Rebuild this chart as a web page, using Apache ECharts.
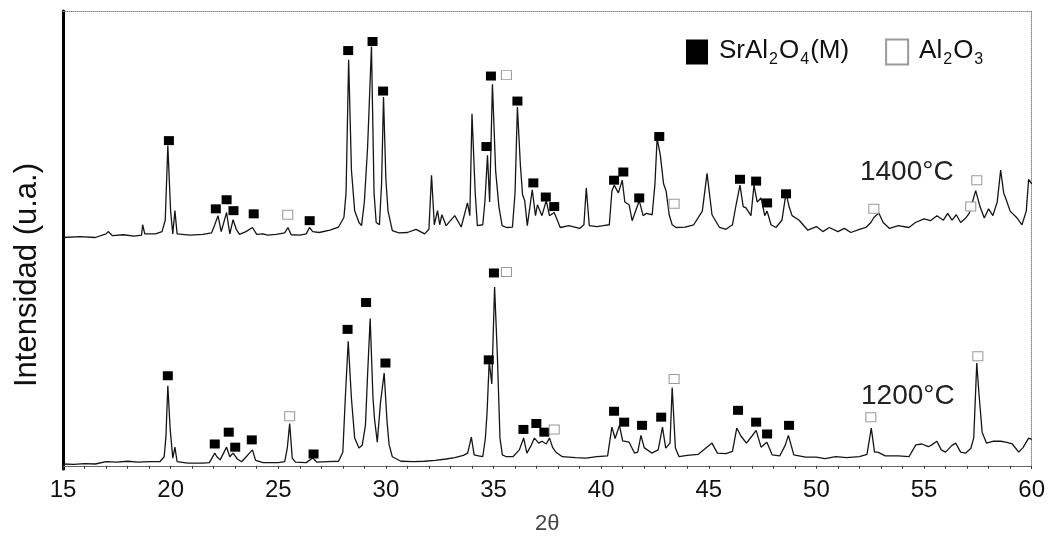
<!DOCTYPE html>
<html>
<head>
<meta charset="utf-8">
<script src="https://cdn.jsdelivr.net/npm/echarts@6/dist/echarts.min.js"></script>
<style>
html,body{margin:0;padding:0;background:#fff;}
#chart{width:1048px;height:540px;}
</style>
</head>
<body>
<div id="chart"></div>
<script>
// X-ray diffraction patterns: [2theta, intensity (a.u., offset included)]
var pattern1400 = [
[15.0,50.2],[15.8,50.4],[16.5,50.2],[17.0,51.0],[17.1,51.5],[17.3,50.6],[17.8,50.8],[18.3,50.5],[18.65,50.7],[18.7,53.0],[18.8,51.0],[19.3,51.0],[19.6,51.5],[19.75,54.0],[19.87,70.4],[20.0,56.0],[20.1,51.0],[20.2,56.1],[20.3,51.0],[20.9,50.7],[21.5,50.9],[21.9,51.2],[22.05,53.0],[22.2,55.0],[22.35,51.5],[22.6,55.7],[22.75,51.0],[22.9,54.1],[23.05,52.0],[23.2,50.9],[23.5,51.5],[23.8,52.4],[24.0,50.9],[24.3,51.0],[24.5,50.7],[24.9,50.9],[25.3,51.2],[25.45,52.4],[25.6,50.8],[26.0,50.7],[26.3,51.0],[26.45,52.4],[26.6,51.5],[26.9,51.3],[27.4,51.8],[27.8,52.5],[28.05,54.6],[28.15,60.0],[28.27,89.3],[28.4,65.0],[28.55,56.1],[28.75,53.5],[28.87,52.8],[29.0,58.0],[29.15,70.0],[29.33,92.2],[29.45,60.0],[29.55,53.5],[29.7,53.0],[29.8,62.0],[29.89,81.1],[30.0,63.0],[30.1,56.0],[30.3,51.7],[30.6,51.2],[31.0,51.3],[31.4,52.0],[31.8,51.0],[32.0,52.0],[32.12,63.9],[32.25,53.0],[32.4,56.1],[32.5,53.0],[32.6,55.2],[32.8,52.8],[33.2,55.0],[33.5,52.5],[33.79,57.8],[33.9,55.0],[34.0,77.4],[34.15,60.0],[34.25,52.8],[34.5,53.0],[34.6,58.0],[34.72,68.3],[34.82,58.0],[34.95,83.9],[35.1,64.8],[35.25,57.0],[35.4,52.8],[35.6,52.4],[35.88,52.5],[36.0,60.0],[36.11,78.9],[36.25,66.0],[36.35,59.6],[36.45,58.3],[36.57,52.8],[36.8,60.7],[36.95,55.0],[37.04,57.4],[37.25,55.0],[37.45,58.3],[37.6,55.0],[37.82,55.7],[38.1,52.4],[38.5,52.8],[39.0,52.2],[39.2,53.0],[39.31,61.1],[39.45,52.8],[39.8,52.6],[40.1,52.8],[40.38,53.0],[40.5,60.4],[40.61,61.7],[40.8,60.0],[40.98,62.8],[41.1,58.0],[41.3,57.4],[41.44,53.9],[41.77,58.3],[41.95,55.0],[42.1,55.5],[42.37,55.2],[42.5,62.0],[42.6,72.0],[42.75,68.3],[42.9,62.0],[43.02,60.4],[43.16,55.2],[43.3,53.0],[43.48,52.4],[43.9,52.5],[44.3,53.0],[44.7,56.0],[44.92,64.3],[45.15,55.2],[45.5,52.4],[45.8,52.0],[46.1,53.0],[46.27,57.4],[46.45,61.7],[46.6,57.0],[46.73,56.7],[46.96,55.0],[47.1,61.7],[47.25,58.0],[47.43,58.9],[47.6,55.0],[47.71,56.0],[47.89,53.0],[48.12,52.4],[48.4,54.0],[48.59,60.0],[48.73,57.0],[48.87,55.0],[49.2,54.0],[49.6,51.8],[50.0,52.6],[50.3,51.5],[50.6,52.4],[51.0,51.5],[51.3,52.2],[51.6,51.3],[52.0,52.0],[52.3,52.4],[52.53,53.5],[52.67,54.6],[52.9,55.6],[53.1,53.5],[53.4,52.2],[53.8,52.8],[54.3,52.4],[54.6,53.5],[55.0,54.3],[55.3,53.9],[55.6,55.0],[55.9,54.0],[56.1,55.5],[56.3,54.0],[56.5,55.2],[56.7,53.5],[56.94,54.5],[57.1,55.5],[57.25,58.0],[57.4,60.5],[57.6,57.0],[57.8,54.5],[58.0,56.5],[58.2,55.0],[58.4,58.0],[58.56,65.0],[58.7,60.0],[58.79,58.9],[59.0,56.0],[59.3,54.6],[59.55,53.0],[59.75,56.0],[59.86,63.0],[60.0,62.0]
];
var pattern1200 = [
[15.0,0.4],[15.5,0.3],[16.0,0.5],[16.5,0.4],[17.0,0.9],[17.5,0.8],[18.0,1.0],[18.5,0.8],[19.0,0.9],[19.5,0.9],[19.7,2.0],[19.78,6.3],[19.87,17.6],[19.98,8.0],[20.1,1.7],[20.2,4.1],[20.3,0.9],[20.8,0.6],[21.5,0.6],[21.8,0.7],[22.05,2.8],[22.15,2.0],[22.3,1.3],[22.6,4.1],[22.75,2.0],[22.9,2.8],[23.1,1.5],[23.3,0.9],[23.8,3.5],[23.95,1.2],[24.3,0.7],[25.0,0.7],[25.3,0.9],[25.42,3.9],[25.53,9.3],[25.65,1.7],[25.8,0.8],[26.3,0.7],[26.6,1.7],[26.8,0.8],[27.3,0.9],[27.8,1.0],[28.0,3.0],[28.12,15.4],[28.25,27.4],[28.4,14.8],[28.55,6.1],[28.75,3.9],[28.9,4.5],[29.05,8.9],[29.15,20.0],[29.27,32.4],[29.4,15.0],[29.47,10.4],[29.6,5.2],[29.75,13.9],[29.92,20.4],[30.05,10.0],[30.15,4.6],[30.3,2.0],[30.7,1.0],[31.3,0.9],[31.8,1.0],[32.3,1.2],[32.8,1.5],[33.2,1.8],[33.6,2.3],[33.8,2.8],[33.97,6.3],[34.1,2.4],[34.3,2.2],[34.5,2.0],[34.62,6.0],[34.7,11.7],[34.8,23.0],[34.92,18.0],[35.05,39.3],[35.18,24.1],[35.3,6.1],[35.41,2.4],[35.6,2.0],[35.9,2.0],[36.2,3.5],[36.4,6.1],[36.55,2.8],[36.75,4.5],[36.9,6.1],[37.1,5.0],[37.25,5.4],[37.45,4.8],[37.6,6.1],[37.75,4.0],[37.9,3.0],[38.2,2.0],[38.8,1.8],[39.3,1.7],[39.8,2.0],[40.3,2.2],[40.5,8.5],[40.65,6.0],[40.85,8.9],[41.0,5.5],[41.3,5.2],[41.55,2.8],[41.7,3.0],[41.85,6.7],[42.0,4.0],[42.35,2.8],[42.65,3.5],[42.85,8.5],[43.0,3.9],[43.2,5.0],[43.3,17.2],[43.45,3.9],[43.62,2.0],[44.0,2.3],[44.5,2.5],[45.15,5.0],[45.4,2.8],[45.8,2.7],[46.1,3.2],[46.3,8.3],[46.5,6.5],[46.75,5.0],[47.0,6.5],[47.2,7.8],[47.43,4.1],[47.6,4.8],[47.7,5.2],[47.95,2.4],[48.3,2.2],[48.55,4.5],[48.7,6.7],[48.95,2.4],[49.5,1.9],[50.0,1.9],[50.4,1.6],[50.9,2.0],[51.4,1.8],[52.0,2.0],[52.35,2.5],[52.55,8.3],[52.7,3.0],[52.85,3.0],[53.2,2.2],[53.8,2.2],[54.3,2.0],[54.62,4.6],[54.9,4.8],[55.2,4.2],[55.36,4.6],[55.6,5.4],[55.8,3.5],[56.0,3.0],[56.3,4.5],[56.47,5.0],[56.7,3.0],[56.94,2.8],[57.17,3.8],[57.31,6.1],[57.45,22.6],[57.55,16.0],[57.7,7.4],[57.9,5.0],[58.2,5.4],[58.56,5.4],[58.8,5.2],[59.1,4.8],[59.4,3.0],[59.6,4.0],[59.86,6.1],[60.0,5.8]
];
// Phase identification markers
var srMarks1400 = [[19.92,71.5],[22.1,56.5],[22.6,58.5],[22.92,56.1],[23.86,55.4],[26.46,53.9],[28.25,91.3],[29.38,93.3],[29.87,82.4],[34.67,70.2],[34.88,85.7],[36.11,80.2],[36.85,62.2],[37.43,59.1],[37.82,57.0],[40.6,62.8],[41.03,64.6],[41.77,58.9],[42.7,72.4],[46.45,63.0],[47.2,62.6],[47.71,57.8],[48.59,59.8]];
var alMarks1400 = [[25.44,55.2],[35.6,85.9],[43.39,57.6],[52.67,56.5],[57.17,57.0],[57.45,62.8]];
var srMarks1200 = [[19.87,19.8],[22.05,4.8],[22.7,7.4],[23.0,4.1],[23.77,5.7],[26.64,2.6],[28.22,30.0],[29.08,35.9],[29.98,22.6],[34.78,23.3],[35.02,42.4],[36.39,8.0],[36.99,9.3],[37.36,7.4],[40.6,12.0],[41.07,9.6],[41.9,8.9],[42.79,10.7],[46.36,12.2],[47.2,9.6],[47.71,7.0],[48.73,8.9]];
var alMarks1200 = [[25.53,10.9],[35.6,42.6],[37.82,8.0],[43.39,19.1],[52.53,10.7],[57.5,24.1]];
var tempLabels = [{text:'1400°C', pos:[54.2,64.6]},{text:'1200°C', pos:[54.25,15.3]}];
var xTicks = {min:15, max:60, step:5};

var FONT = '"Liberation Sans", Arial, sans-serif';
var chart = echarts.init(document.getElementById('chart'));
var srName = 'SrAl2O4(M)', alName = 'Al2O3';
chart.setOption({
  animation:false,
  backgroundColor:'#fff',
  grid:{left:63, right:15, top:11, bottom:66},
  legend:{
    left:681, top:33, itemWidth:22, itemHeight:25, itemGap:36,
    data:[srName, alName],
    formatter:function(n){
      return n===srName ? '{m|SrAl}{s|2}{m|O}{s|4}{m|(M)}' : '{m|Al}{s|2}{m|O}{s|3}';
    },
    textStyle:{
      fontFamily:FONT, color:'#111', padding:[0,0,0,6],
      rich:{
        m:{fontFamily:FONT, fontSize:26, color:'#111', lineHeight:32, verticalAlign:'bottom', padding:[0,0,4,0]},
        s:{fontFamily:FONT, fontSize:16, color:'#111', lineHeight:32, verticalAlign:'bottom', padding:[0,1,0,1]}
      }
    }
  },
  xAxis:[{
    type:'value', min:xTicks.min, max:xTicks.max, interval:xTicks.step,
    name:'2θ', nameLocation:'middle', nameGap:44,
    nameTextStyle:{fontFamily:FONT, fontSize:22, color:'#444'},
    axisLine:{lineStyle:{color:'#666', width:1}},
    axisTick:{show:true, length:3, lineStyle:{color:'#333'}},
    minorTick:{show:true, splitNumber:5, length:3, lineStyle:{color:'#333'}},
    splitLine:{show:false},
    axisLabel:{fontFamily:FONT, fontSize:24, color:'#111', margin:9}
  },{
    type:'value', position:'top', min:xTicks.min, max:xTicks.max,
    axisLine:{show:true, onZero:false, lineStyle:{color:'#888', type:'dotted', width:1}},
    axisTick:{show:false}, axisLabel:{show:false}, splitLine:{show:false}
  }],
  yAxis:[{
    type:'value', min:-0.7, max:100,
    name:'Intensidad (u.a.)', nameLocation:'middle', nameGap:20,
    nameTextStyle:{fontFamily:FONT, fontSize:31, color:'#111', padding:[0,70,0,0]},
    axisLine:{show:true, onZero:false, lineStyle:{color:'#000', width:3}},
    axisTick:{show:false}, axisLabel:{show:false}, splitLine:{show:false}
  },{
    type:'value', position:'right', min:-0.7, max:100,
    axisLine:{show:true, onZero:false, lineStyle:{color:'#888', type:'dotted', width:1}},
    axisTick:{show:false}, axisLabel:{show:false}, splitLine:{show:false}
  }],
  series:[
    {type:'line', name:'1400', data:pattern1400, showSymbol:false, symbol:'none',
     lineStyle:{color:'#151515', width:1.3}, z:2,
     markPoint:{symbol:'rect', symbolSize:1, itemStyle:{color:'rgba(0,0,0,0)'},
       label:{show:true, position:'inside', fontFamily:FONT, fontSize:28, color:'#222'},
       data:[{coord:tempLabels[0].pos, value:tempLabels[0].text, label:{formatter:tempLabels[0].text}}]}},
    {type:'line', name:'1200', data:pattern1200, showSymbol:false, symbol:'none',
     lineStyle:{color:'#151515', width:1.3}, z:2,
     markPoint:{symbol:'rect', symbolSize:1, itemStyle:{color:'rgba(0,0,0,0)'},
       label:{show:true, position:'inside', fontFamily:FONT, fontSize:28, color:'#222'},
       data:[{coord:tempLabels[1].pos, value:tempLabels[1].text, label:{formatter:tempLabels[1].text}}]}},
    {type:'scatter', name:srName, data:srMarks1400.concat(srMarks1200), symbol:'rect', symbolSize:[10,9],
     itemStyle:{color:'#000', opacity:1}, z:5},
    {type:'scatter', name:alName, data:alMarks1400.concat(alMarks1200), symbol:'rect', symbolSize:[10,9],
     itemStyle:{color:'#fff', borderColor:'#9a9a9a', borderWidth:1, opacity:1}, z:5}
  ]
});
</script>
</body>
</html>
